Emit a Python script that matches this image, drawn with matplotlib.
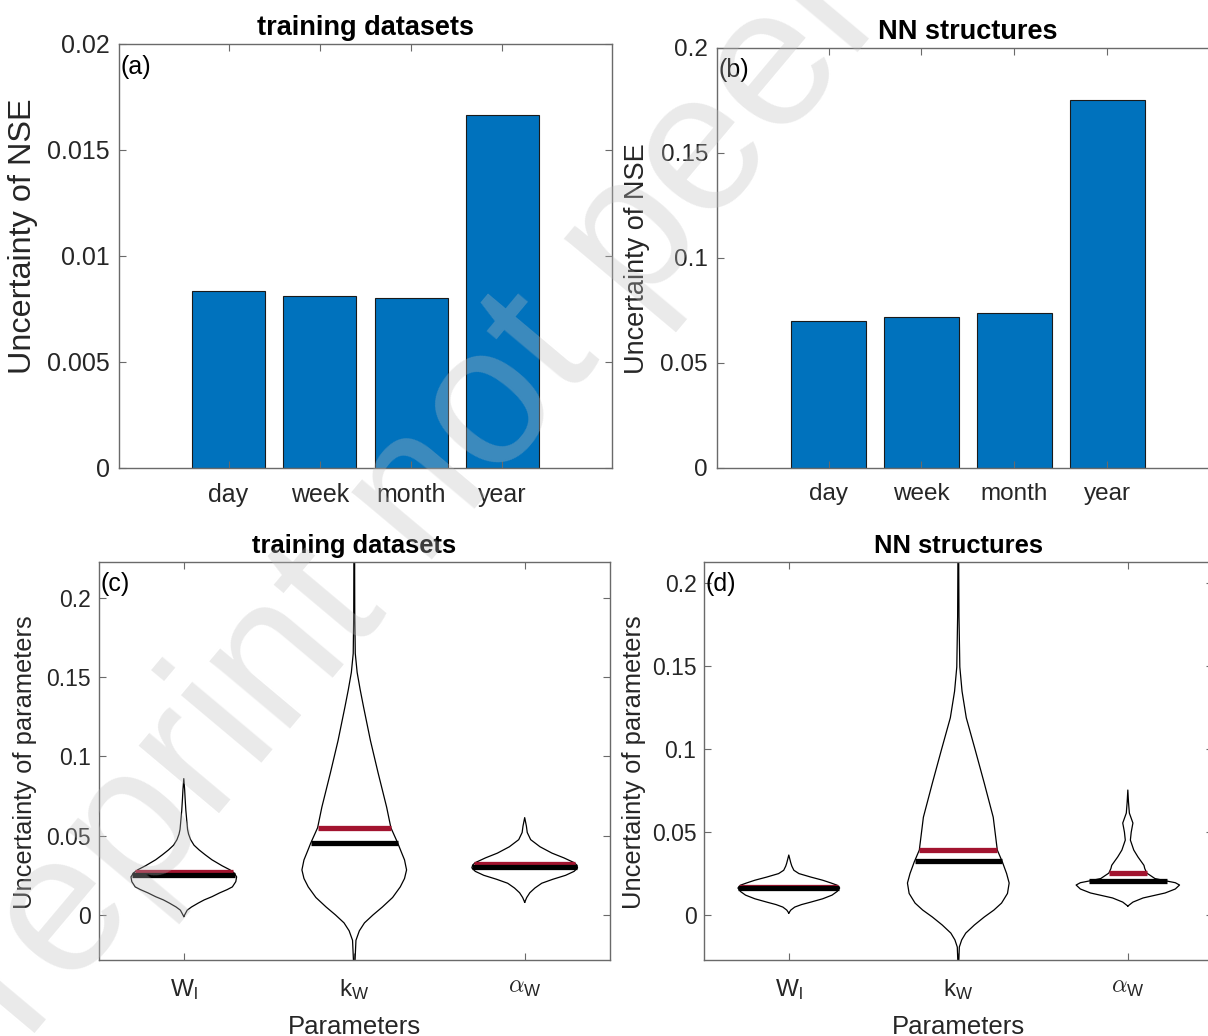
import numpy as np
import matplotlib
matplotlib.use("Agg")
import matplotlib.pyplot as plt
from matplotlib.ticker import FuncFormatter

plt.rcParams['font.family'] = 'Liberation Sans'
plt.rcParams['mathtext.fontset'] = 'cm'

# ---- data ----
periods = ["day", "week", "month", "year"]
nse_unc_training = [0.00834, 0.00810, 0.00800, 0.01664]
nse_unc_structure = [0.0700, 0.0719, 0.0738, 0.1752]

param_labels = [r'$\mathregular{W_l}$', r'$\mathregular{k_W}$', r'$\alpha_\mathregular{W}$']

# violin outlines: value (y) and half width, training datasets
c_wl_y = [-0.001, 0.003, 0.005, 0.0075, 0.0095, 0.0115, 0.0139, 0.016, 0.0177, 0.021, 0.024, 0.0265,
          0.0285, 0.031, 0.0348, 0.038, 0.041, 0.044, 0.0475, 0.051, 0.054, 0.06, 0.066, 0.073, 0.079, 0.086]
c_wl_w = [0, 0.02, 0.045, 0.085, 0.12, 0.165, 0.21, 0.255, 0.285, 0.305, 0.31, 0.295,
          0.27, 0.225, 0.165, 0.125, 0.09, 0.06, 0.04, 0.028, 0.022, 0.017, 0.012, 0.008, 0.005, 0]
c_kw_y = [-0.035, -0.016, -0.01, -0.005, 0.0, 0.005, 0.011, 0.0177, 0.023, 0.0284, 0.0347, 0.04,
          0.0454, 0.055, 0.068, 0.0896, 0.11, 0.131, 0.142, 0.153, 0.165, 0.19, 0.23]
c_kw_w = [0.002, 0.01, 0.03, 0.06, 0.11, 0.165, 0.225, 0.27, 0.295, 0.307, 0.295, 0.275,
          0.255, 0.215, 0.19, 0.14, 0.095, 0.055, 0.035, 0.017, 0.006, 0.003, 0.002]
c_aw_y = [0.008, 0.011, 0.014, 0.017, 0.02, 0.0225, 0.025, 0.0275, 0.0297, 0.0315, 0.033, 0.036,
          0.039, 0.043, 0.0475, 0.052, 0.056, 0.0614]
c_aw_w = [0, 0.012, 0.03, 0.06, 0.10, 0.165, 0.24, 0.29, 0.31, 0.305, 0.29, 0.23,
          0.16, 0.09, 0.035, 0.015, 0.01, 0]
c_mean = [0.0272, 0.0550, 0.0323]
c_median = [0.0253, 0.0454, 0.0304]

# NN structures
d_wl_y = [0.0012, 0.003, 0.0048, 0.0063, 0.0078, 0.0098, 0.012, 0.0142, 0.0163, 0.018, 0.0193,
          0.021, 0.0229, 0.025, 0.027, 0.0295, 0.0314, 0.0362]
d_wl_w = [0, 0.012, 0.035, 0.075, 0.13, 0.2, 0.255, 0.285, 0.30, 0.285, 0.25,
          0.2, 0.13, 0.06, 0.03, 0.018, 0.012, 0]
d_kw_y = [-0.03, -0.0193, -0.015, -0.0109, -0.006, -0.0012, 0.003, 0.0072, 0.013, 0.0193, 0.025,
          0.032, 0.0392, 0.059, 0.0796, 0.0995, 0.119, 0.135, 0.1496, 0.18, 0.22]
d_kw_w = [0.002, 0.006, 0.02, 0.044, 0.095, 0.153, 0.21, 0.255, 0.29, 0.30, 0.285,
          0.26, 0.23, 0.206, 0.153, 0.1, 0.047, 0.022, 0.009, 0.004, 0.002]
d_aw_y = [0.0054, 0.0078, 0.0103, 0.0133, 0.0157, 0.0181, 0.0195, 0.0205, 0.022, 0.0253, 0.028,
          0.030, 0.035, 0.0392, 0.0452, 0.050, 0.0555, 0.0615, 0.068, 0.0754]
d_aw_w = [0, 0.03, 0.09, 0.22, 0.28, 0.305, 0.28, 0.23, 0.16, 0.112, 0.1,
          0.095, 0.06, 0.035, 0.015, 0.02, 0.03, 0.009, 0.004, 0]
d_mean = [0.0172, 0.0395, 0.0253]
d_median = [0.0165, 0.0325, 0.0205]

BLUE = '#0072BD'
RED = '#A2142F'
AXC = '#262626'
SPINE = '#6a6a6a'

fmt = FuncFormatter(lambda v, p: '%g' % round(v, 6))


def style(ax, tsize, xpad, ypad):
    for s in ax.spines.values():
        s.set_color(SPINE)
        s.set_linewidth(1.0)
    ax.tick_params(direction='in', top=True, right=True, length=5, width=0.8,
                   color=SPINE, labelcolor=AXC, labelsize=tsize)
    ax.tick_params(axis='x', pad=xpad)
    ax.tick_params(axis='y', pad=ypad)
    ax.yaxis.set_major_formatter(fmt)


fig = plt.figure(figsize=(12.08, 10.36), dpi=100)

# (a) and (b) bar charts
bar_panels = [
    ([0.0985, 0.5483, 0.408, 0.4093], nse_unc_training, 0.02, [0, 0.005, 0.01, 0.015, 0.02],
     'training datasets', '(a)', 18, 23.3, (-0.164, 0.547)),
    ([0.5935, 0.5483, 0.4156, 0.4054], nse_unc_structure, 0.2, [0, 0.05, 0.1, 0.15, 0.2],
     'NN structures', '(b)', 17.5, 19.5, (-0.133, 0.499)),
]
x = np.arange(1, len(periods) + 1)
for rect, vals, ymax, yt, title, tag, ts, ls, lc in bar_panels:
    ax = fig.add_axes(rect)
    ax.bar(x, vals, width=0.8, color=BLUE, edgecolor='#1a1a1a', linewidth=0.8)
    ax.set_xlim(-0.2, 5.2)
    ax.set_ylim(0, ymax)
    ax.set_xticks(x)
    ax.set_xticklabels(periods)
    ax.set_yticks(yt)
    style(ax, ts, 11, 6.5)
    ax.set_ylabel('Uncertainty of NSE', fontsize=ls, color=AXC)
    ax.yaxis.set_label_coords(*lc)
    ax.set_title(title, fontsize=19.5, fontweight='bold', pad=6.5)
    ax.text(0.003, 0.975, tag, transform=ax.transAxes, ha='left', va='top', fontsize=18, color='k')

# (c) and (d) violin plots
violin_panels = [
    ([0.0816, 0.0734, 0.4233, 0.3842], (-0.0284, 0.2227),
     [(c_wl_y, c_wl_w), (c_kw_y, c_kw_w), (c_aw_y, c_aw_w)], c_mean, c_median,
     'training datasets', '(c)', (-0.12, 0.497)),
    ([0.5828, 0.0734, 0.421, 0.3842], (-0.0271, 0.213),
     [(d_wl_y, d_wl_w), (d_kw_y, d_kw_w), (d_aw_y, d_aw_w)], d_mean, d_median,
     'NN structures', '(d)', (-0.114, 0.497)),
]
for rect, ylim, shapes, means, medians, title, tag, lc in violin_panels:
    ax = fig.add_axes(rect)
    for i, (vy, vw) in enumerate(shapes):
        pos = i + 1
        vy = np.array(vy)
        vw = np.array(vw)
        xs = np.concatenate([pos - vw, (pos + vw)[::-1]])
        ys = np.concatenate([vy, vy[::-1]])
        ax.fill(xs, ys, color='white', zorder=1)
        ax.plot(xs, ys, color='k', lw=0.9, zorder=2)
        hm = np.interp(means[i], vy, vw)
        hd = np.interp(medians[i], vy, vw)
        ax.plot([pos - hm, pos + hm], [means[i]] * 2, color=RED, lw=3.8, solid_capstyle='butt', zorder=3)
        ax.plot([pos - hd, pos + hd], [medians[i]] * 2, color='k', lw=3.8, solid_capstyle='butt', zorder=4)
    ax.set_xlim(0.5, 3.5)
    ax.set_ylim(*ylim)
    ax.set_xticks([1, 2, 3])
    ax.set_xticklabels(param_labels, fontsize=17.5)
    ax.set_yticks([0, 0.05, 0.1, 0.15, 0.2])
    style(ax, 16.5, 12, 5.5)
    ax.tick_params(axis='x', labelsize=17.5)
    ax.set_ylabel('Uncertainty of parameters', fontsize=18.4, color=AXC)
    ax.yaxis.set_label_coords(*lc)
    ax.set_xlabel('Parameters', fontsize=18.5, color=AXC)
    ax.xaxis.set_label_coords(0.5, -0.138)
    ax.set_title(title, fontsize=18.4, fontweight='bold', pad=6.5)
    ax.text(0.003, 0.975, tag, transform=ax.transAxes, ha='left', va='top', fontsize=18, color='k')

# watermark
fig.text(-0.037, -0.088, 'preprint not peer reviewed', rotation=50, rotation_mode='anchor',
         ha='left', va='baseline', fontsize=143, color=(0.745, 0.745, 0.745), alpha=0.32, zorder=20)

fig.savefig('out.png', dpi=100)
